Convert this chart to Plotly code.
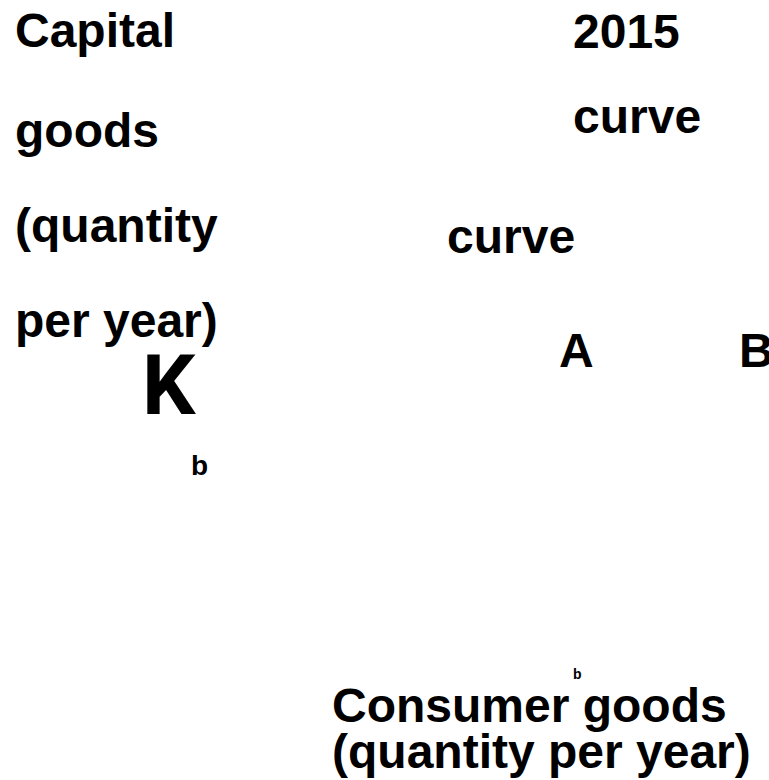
import plotly.graph_objects as go

# Text labels of the diagram
labels = ["Capital", "goods", "(quantity", "per year)",
          "2015", "curve", "curve", "A", "B",
          "K", "b", "b",
          "Consumer goods", "(quantity per year)"]
# left edge (px) and baseline (px from top)
label_x = [14, 14, 14, 14,
           572, 572, 446, 558, 738,
           141, 190, 572,
           331, 331]
label_base = [47, 147, 242, 337,
              48, 133, 253, 367, 367,
              415, 475, 679,
              722, 768]
label_size = [48, 48, 48, 48,
              48, 48, 48, 48, 48,
              84, 28, 14,
              48, 48]
label_family = (["Liberation Sans"] * 9
                + ["Roboto"]
                + ["Liberation Sans"] * 4)

W, H = 769, 780
fig = go.Figure()
fig.add_trace(go.Scatter(x=[0, W], y=[0, H], mode="markers",
                         marker=dict(opacity=0), hoverinfo="skip", showlegend=False))

for t, x, b, s, f in zip(labels, label_x, label_base, label_size, label_family):
    fig.add_annotation(
        x=x, y=b - 0.3465 * s, xref="x", yref="y",
        text=t, showarrow=False, xanchor="left", yanchor="middle",
        font=dict(family=f, size=s, color="black", weight="bold"),
        borderpad=0,
    )

fig.update_layout(
    width=W, height=H,
    margin=dict(l=0, r=0, t=0, b=0),
    paper_bgcolor="white", plot_bgcolor="white",
    xaxis=dict(range=[0, W], visible=False, fixedrange=True),
    yaxis=dict(range=[H, 0], visible=False, fixedrange=True),
    showlegend=False,
)
fig.write_html("out.html", config={"displayModeBar": False},
               post_script="document.body.style.margin='0';document.body.style.overflow='hidden';")
